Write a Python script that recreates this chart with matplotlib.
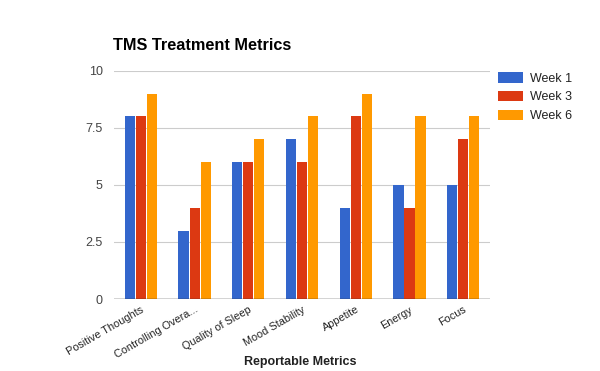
import numpy as np
import matplotlib.pyplot as plt

plt.rcParams['font.family'] = ['Liberation Sans', 'DejaVu Sans']

# chart data
metrics = ["Positive Thoughts", "Controlling Overa...", "Quality of Sleep",
           "Mood Stability", "Appetite", "Energy", "Focus"]
week1 = [8, 3, 6, 7, 4, 5, 5]
week3 = [8, 4, 6, 6, 8, 4, 7]
week6 = [9, 6, 7, 8, 9, 8, 8]
series_names = ["Week 1", "Week 3", "Week 6"]
colors = ["#3366cc", "#dc3912", "#ff9900"]
yticks = [0, 2.5, 5, 7.5, 10]
ytick_labels = ["0", "2.5", "5", "7.5", "10"]

fig = plt.figure(figsize=(6, 3.71), dpi=100)
ax = fig.add_axes([0.19, 0.194, 0.627, 0.615])

x = np.arange(len(metrics))
w = 0.19
for i, (vals, name, c) in enumerate(zip([week1, week3, week6], series_names, colors)):
    ax.bar(x + (i - 1) * (w + 0.015), vals, width=w, color=c, label=name, zorder=3)

ax.set_xlim(-0.5, len(metrics) - 0.5)
ax.set_ylim(0, 10)
ax.set_yticks(yticks)
ax.set_yticklabels(ytick_labels)
ax.grid(axis='y', color='#cccccc', linewidth=0.8, zorder=0)
ax.axhline(0, color='#333333', linewidth=1, zorder=4)
for s in ax.spines.values():
    s.set_visible(False)
ax.tick_params(axis='both', length=0, colors='#444444')
ax.tick_params(axis='y', pad=8, labelsize=9)
ax.tick_params(axis='x', pad=4, labelsize=7.8)
ax.set_xticks(x)
ax.set_xticklabels(metrics, rotation=30, ha='right', rotation_mode='anchor', color='#222222')

fig.text(0.5, 1 - 362 / 371, "Reportable Metrics", fontsize=9, fontweight='bold',
         color='#222222', ha='center', va='center')
fig.text(113 / 600, 1 - 45 / 371, "TMS Treatment Metrics", fontsize=11.7, fontweight='bold',
         color='#000000', va='center', ha='left')

fig.legend(loc='upper left', bbox_to_anchor=(487 / 600, 1 - 61 / 371), frameon=False,
           fontsize=9, handlelength=2.0, handleheight=0.9, labelspacing=0.5,
           handletextpad=0.5, labelcolor='#222222')

fig.savefig("out.png", dpi=100)
